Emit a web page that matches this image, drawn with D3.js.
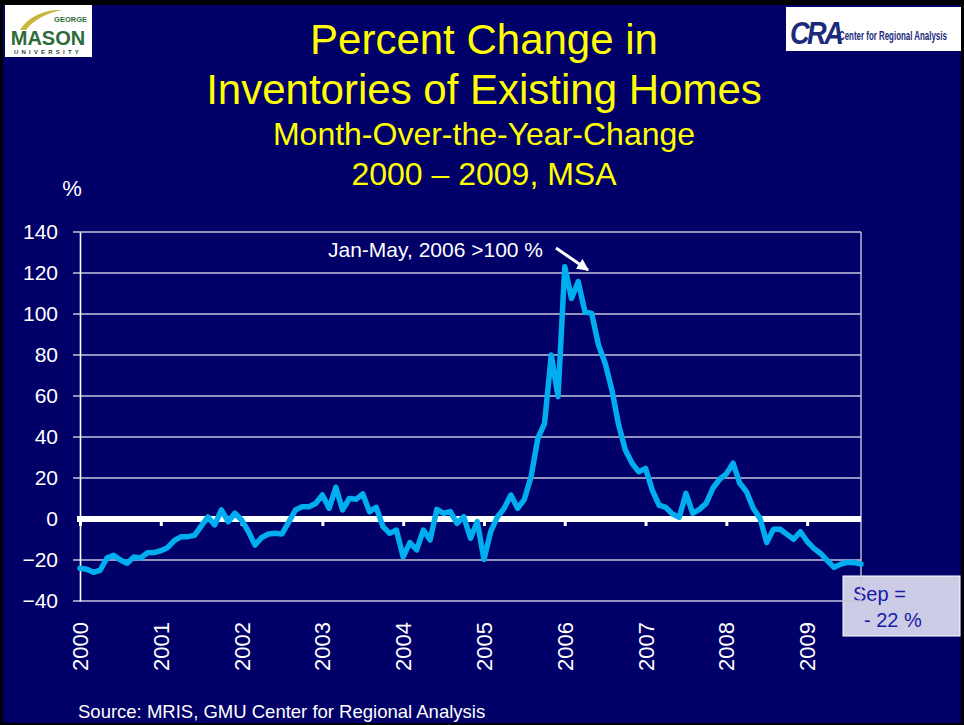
<!DOCTYPE html>
<html>
<head>
<meta charset="utf-8">
<script src="https://cdn.jsdelivr.net/npm/d3@7"></script>
<style>
  html, body { margin: 0; padding: 0; background: #000; }
  svg { display: block; }
  text { font-family: "Liberation Sans", Arial, sans-serif; }
</style>
</head>
<body>
<svg id="chart" width="964" height="725"></svg>
<script>
// ---- data ----
const startYear = 2000;
const yearLabels = ["2000","2001","2002","2003","2004","2005","2006","2007","2008","2009"];
const yTicks = [-40, -20, 0, 20, 40, 60, 80, 100, 120, 140];
// monthly % change, Jan 2000 .. Sep 2009
const values2000 = [-24, -24.5, -26, -25, -19, -17.7, -20, -21.6, -18.5, -19, -16.5, -16.4];
const values2001 = [-15.5, -14, -10.5, -8.7, -8.6, -8, -3.5, 1, -2.9, 4.4, -1.3, 2.8];
const values2002 = [-0.5, -6, -12.7, -9, -7.3, -7, -7.3, -1.5, 4.4, 6, 6, 7.6];
const values2003 = [11.7, 5.2, 15.5, 4.4, 10, 9.6, 12.2, 3.6, 5.7, -3.7, -7, -5.4];
const values2004 = [-18.4, -11.5, -15.1, -5.4, -10.2, 4.7, 2.8, 3.6, -2.1, 1.1, -9.4, -1.3];
const values2005 = [-19.7, -6.2, 1, 5.2, 11.7, 5.2, 9.6, 20.7, 39.3, 46.7, 80, 59.7];
const values2006 = [123, 107.6, 115.8, 101, 100.3, 85, 76, 63, 45.9, 33.7, 27.2, 23];
const values2007 = [24.7, 14.1, 6.8, 5.7, 2.4, 0.8, 12.5, 2.8, 4.7, 7.6, 15, 19.4];
const values2008 = [22, 27.2, 17.4, 13.3, 5.2, 0.3, -11.5, -5, -5, -7.5, -9.9, -6.2];
const values2009 = [-11, -14.3, -16.8, -20.3, -23.6, -22, -21.1, -21.3, -22];
const titleLines = ["Percent Change in", "Inventories of Existing Homes"];
const subtitleLines = ["Month-Over-the-Year-Change", "2000 \u2013 2009, MSA"];

const values = [].concat(values2000, values2001, values2002, values2003, values2004,
  values2005, values2006, values2007, values2008, values2009);
const series = values.map((v, i) => ({ i, v }));

const svg = d3.select("#chart");
const navy = "#000068";

// frame & background
svg.append("rect").attr("x", 0).attr("y", 0).attr("width", 964).attr("height", 725).attr("fill", "#000");
svg.append("rect").attr("x", 3).attr("y", 5).attr("width", 958).attr("height", 718).attr("fill", navy);

// ---- scales ----
const x = d3.scaleLinear().domain([0, values.length - 1]).range([80, 861]);
const y = d3.scaleLinear().domain([-40, 140]).range([601, 232]);

// Sep callout box (behind grid)
svg.append("rect").attr("x", 843).attr("y", 576).attr("width", 117).attr("height", 60)
  .attr("fill", "#CCCCE6").attr("stroke", "#ffffff").attr("stroke-width", 1);
svg.append("text").attr("x", 853).attr("y", 601).attr("font-size", 20).attr("fill", "#1a1aa8").text("Sep =");
svg.append("text").attr("x", 864).attr("y", 627).attr("font-size", 20).attr("fill", "#1a1aa8").text("- 22 %");

// gridlines
const grid = svg.append("g");
grid.selectAll("line").data(yTicks.filter(d => d !== 0)).enter().append("line")
  .attr("x1", 73).attr("x2", 861)
  .attr("y1", d => y(d)).attr("y2", d => y(d))
  .attr("stroke", "#c4c4dc").attr("stroke-width", 1.4);
// right border
svg.append("line").attr("x1", 861).attr("x2", 861).attr("y1", y(140)).attr("y2", y(-40))
  .attr("stroke", "#c4c4dc").attr("stroke-width", 1.4);

// y axis
const yAxis = svg.append("g").attr("transform", "translate(80,0)")
  .call(d3.axisLeft(y).tickValues(yTicks).tickSize(0).tickPadding(22));
yAxis.select(".domain").attr("stroke", "#ffffff").attr("stroke-width", 1.6);
yAxis.selectAll("text").attr("fill", "#ffffff").attr("font-size", 21)
  .attr("font-family", "Liberation Sans, Arial, sans-serif");

// zero line
svg.append("line").attr("x1", 77).attr("x2", 861).attr("y1", y(0)).attr("y2", y(0))
  .attr("stroke", "#ffffff").attr("stroke-width", 6);

// x axis ticks on zero line + labels
const yearIdx = yearLabels.map((d, k) => k * 12);
const xAxis = svg.append("g").attr("transform", `translate(0,${y(0)})`)
  .call(d3.axisBottom(x).tickValues(yearIdx).tickSize(7).tickFormat(""));
xAxis.select(".domain").remove();
xAxis.selectAll("line").attr("stroke", "#ffffff").attr("stroke-width", 3);

svg.append("g").selectAll("text").data(yearLabels).enter().append("text")
  .attr("transform", (d, k) => `translate(${x(k * 12) + 8},622) rotate(-90)`)
  .attr("text-anchor", "end").attr("font-size", 22).attr("fill", "#ffffff").text(d => d);

// line
svg.append("path").datum(series)
  .attr("fill", "none").attr("stroke", "#00AEEF").attr("stroke-width", 5.5)
  .attr("stroke-linejoin", "round").attr("stroke-linecap", "round")
  .attr("d", d3.line().x(d => x(d.i)).y(d => y(d.v)));

// annotation
svg.append("text").attr("x", 543).attr("y", 257).attr("text-anchor", "end")
  .attr("font-size", 21).attr("fill", "#ffffff").text("Jan-May, 2006 >100 %");
svg.append("defs").append("marker").attr("id", "ah").attr("viewBox", "0 0 10 10")
  .attr("refX", 9).attr("refY", 5).attr("markerWidth", 4).attr("markerHeight", 4)
  .attr("orient", "auto").append("path").attr("d", "M0,0L10,5L0,10Z").attr("fill", "#fff");
svg.append("line").attr("x1", 556).attr("y1", 248).attr("x2", 588).attr("y2", 270)
  .attr("stroke", "#fff").attr("stroke-width", 3).attr("marker-end", "url(#ah)");

// % label
svg.append("text").attr("x", 72).attr("y", 196).attr("text-anchor", "middle")
  .attr("font-size", 22).attr("fill", "#ffffff").text("%");

// titles
svg.append("g").selectAll("text").data(titleLines).enter().append("text")
  .attr("x", 484).attr("y", (d, k) => 54 + k * 50).attr("text-anchor", "middle")
  .attr("font-size", 42).attr("fill", "#ffff00").text(d => d);
svg.append("g").selectAll("text").data(subtitleLines).enter().append("text")
  .attr("x", 484).attr("y", (d, k) => 145 + k * 40).attr("text-anchor", "middle")
  .attr("font-size", 32).attr("fill", "#ffff00").text(d => d);

// source
svg.append("text").attr("x", 78).attr("y", 718).attr("font-size", 18.5).attr("fill", "#ffffff")
  .text("Source: MRIS, GMU Center for Regional Analysis");

// GMU logo
const gmu = svg.append("g");
gmu.append("rect").attr("x", 5).attr("y", 5).attr("width", 87).attr("height", 52).attr("fill", "#ffffff");
gmu.append("path").attr("d", "M20,30 C28,16 46,9 62,10 C48,13 34,19 26,30 Z").attr("fill", "#c9b63c");
gmu.append("text").attr("x", 87).attr("y", 22).attr("text-anchor", "end").attr("font-size", 7.5)
  .attr("font-weight", "bold").attr("fill", "#2e6b3a").text("GEORGE");
gmu.append("text").attr("x", 48).attr("y", 45).attr("text-anchor", "middle").attr("font-size", 20)
  .attr("font-weight", "bold").attr("font-family", "Liberation Serif, serif").attr("fill", "#2e6b3a").text("MASON");
gmu.append("text").attr("x", 48).attr("y", 54).attr("text-anchor", "middle").attr("font-size", 6)
  .attr("font-weight", "bold").attr("letter-spacing", 3.2).attr("fill", "#2e4a3a").text("UNIVERSITY");

// CRA logo
const cra = svg.append("g");
cra.append("rect").attr("x", 786).attr("y", 7).attr("width", 175).attr("height", 44).attr("fill", "#ffffff");
cra.append("text").attr("transform", "translate(790,44) scale(0.85,1)").attr("font-size", 32)
  .attr("font-weight", "bold").attr("font-style", "italic").attr("letter-spacing", -3)
  .attr("fill", "#1c2a7a").text("CRA");
cra.append("text").attr("transform", "translate(839,40) scale(0.66,1)").attr("font-size", 12)
  .attr("font-weight", "bold").attr("fill", "#1c2a7a")
  .text("Center for Regional Analysis");
</script>
</body>
</html>
